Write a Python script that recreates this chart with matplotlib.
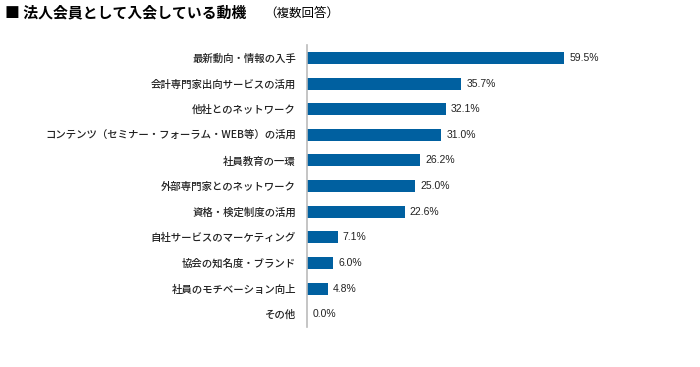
import matplotlib.pyplot as plt

plt.rcParams['font.family'] = ['Noto Sans CJK JP', 'DejaVu Sans']

labels = ['最新動向・情報の入手', '会計専門家出向サービスの活用', '他社とのネットワーク',
          'コンテンツ（セミナー・フォーラム・WEB等）の活用', '社員教育の一環',
          '外部専門家とのネットワーク', '資格・検定制度の活用', '自社サービスのマーケティング',
          '協会の知名度・ブランド', '社員のモチベーション向上', 'その他']
values = [59.5, 35.7, 32.1, 31.0, 26.2, 25.0, 22.6, 7.1, 6.0, 4.8, 0.0]

fig = plt.figure(figsize=(7, 3.67), dpi=100)
ax = fig.add_axes([0.4386, 0.109, 0.46, 0.768])

y = list(range(len(labels)))
ax.barh(y, values, height=0.47, color='#0060a0')
for yi, v in zip(y, values):
    ax.text(v + 1.2, yi, f'{v:.1f}%', va='center', ha='left', fontsize=7.5,
            color='#222222', family='Liberation Sans')

ax.set_ylim(len(labels) - 0.5, -0.5)
ax.set_xlim(0, 74.5)
ax.set_yticks(y)
ax.set_yticklabels(labels, fontsize=7.5, color='#222222', fontweight='medium')
ax.tick_params(axis='y', length=0, pad=8)
ax.set_xticks([])
for s in ['top', 'right', 'bottom']:
    ax.spines[s].set_visible(False)
ax.spines['left'].set_color('#bbbbbb')
ax.spines['left'].set_linewidth(1.2)

fig.text(0.007, 0.953, '■ 法人会員として入会している動機', fontsize=10.7, fontweight='bold', va='baseline')
fig.text(0.378, 0.953, '（複数回答）', fontsize=9, va='baseline')

fig.savefig('out.png', dpi=100)
